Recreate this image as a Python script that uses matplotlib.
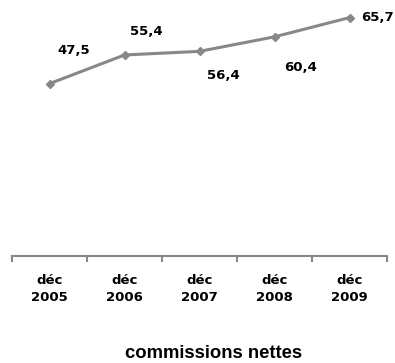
import matplotlib.pyplot as plt

years = ['déc\n2005', 'déc\n2006', 'déc\n2007', 'déc\n2008', 'déc\n2009']
values = [47.5, 55.4, 56.4, 60.4, 65.7]
# label offsets in pixels from each point
offsets = [(24, 33), (22, 23), (24, -24), (26, -31), (28, 0)]

plt.rcParams['font.family'] = ['DejaVu Sans']

fig = plt.figure(figsize=(3.95, 3.63), dpi=100)
ax = fig.add_axes([12 / 395, 1 - 256 / 363, 375 / 395, 254 / 363])

x = range(len(values))
ax.plot(x, values, color='#888888', lw=2.2, marker='D', ms=4.5,
        markerfacecolor='#888888', markeredgecolor='#888888')

for i, v in enumerate(values):
    ax.annotate(f'{v:.1f}'.replace('.', ','), (i, v), xytext=offsets[i],
                textcoords='offset pixels', ha='center', va='center',
                fontsize=9.5, fontweight='bold')

ax.set_xlim(-0.5, 4.5)
ax.set_ylim(0, 70)
for s in ['top', 'right', 'left']:
    ax.spines[s].set_visible(False)
ax.spines['bottom'].set_color('#888888')
ax.spines['bottom'].set_linewidth(1.5)
ax.set_yticks([])

ax.set_xticks(list(x))
ax.set_xticklabels(years, fontsize=9.5, fontweight='bold', linespacing=1.4)
ax.tick_params(axis='x', which='major', length=0, pad=13)
ax.set_xticks([-0.5, 0.5, 1.5, 2.5, 3.5, 4.5], minor=True)
ax.tick_params(axis='x', which='minor', length=4, width=1.5, color='#888888')

fig.text(214 / 395, 1 - 353 / 363, 'commissions nettes',
         ha='center', va='center', fontsize=13.3, fontweight='bold',
         family='Liberation Sans')

fig.savefig('out.png', dpi=100)
